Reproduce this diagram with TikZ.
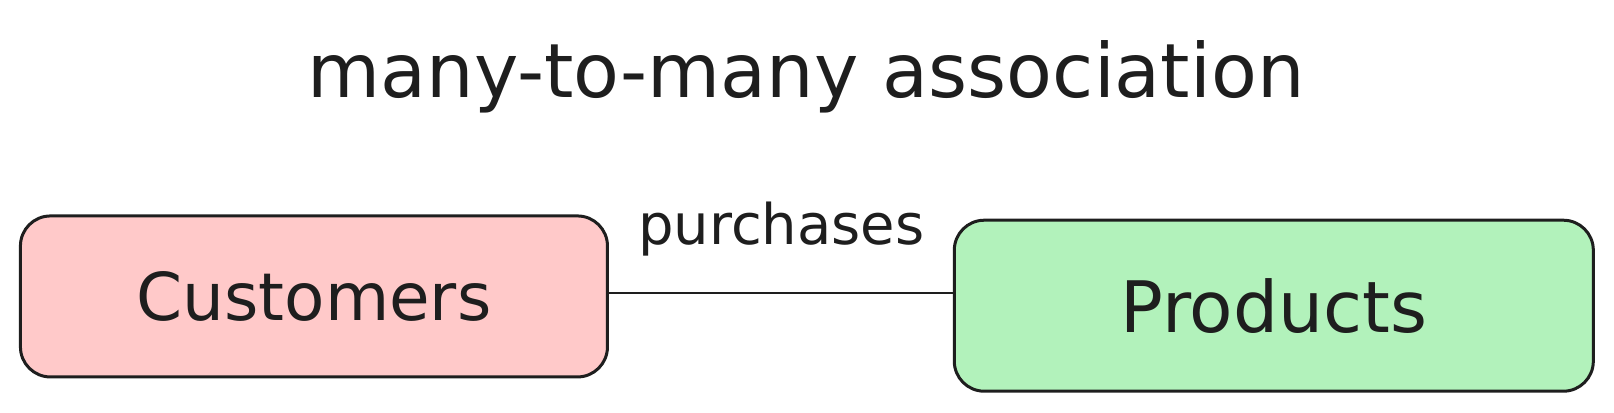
\documentclass[tikz,border=0pt]{standalone}
\usepackage{fontspec}
\setmainfont{DejaVu Sans}
\definecolor{ink}{HTML}{1E1E1E}
\definecolor{pinkfill}{HTML}{FFC9C9}
\definecolor{greenfill}{HTML}{B2F2BB}
\begin{document}
\begin{tikzpicture}[x=1.0293pt,y=1.0293pt,
  entity/.style={draw=ink, line width=3pt, rounded corners=30pt, text=ink, inner sep=0pt},
  link/.style={draw=ink, line width=2.2pt},
  lbl/.style={text=ink, inner sep=0pt, anchor=base, font=\fontsize{56}{66}\selectfont},
  ttl/.style={text=ink, inner sep=0pt, anchor=base, font=\fontsize{75}{90}\selectfont}]
\useasboundingbox (0,0) rectangle (1568,400.3);
\node[ttl] (title) at (783,305.3) {many-to-many association};
\node[entity, fill=pinkfill, minimum width=587pt, minimum height=161pt,
  font=\fontsize{66}{80}\selectfont] (cust) at (305,112.3) {Customers};
\node[entity, fill=greenfill, minimum width=639pt, minimum height=171pt,
  font=\fontsize{71}{85}\selectfont] (prod) at (1237.5,103.3) {Products};
\coordinate (lineY) at (0,115.3);
\draw[link] (cust.east |- lineY) -- (prod.west |- lineY);
\node[lbl] (purch) at (759,162.3) {purchases};
\end{tikzpicture}
\end{document}
